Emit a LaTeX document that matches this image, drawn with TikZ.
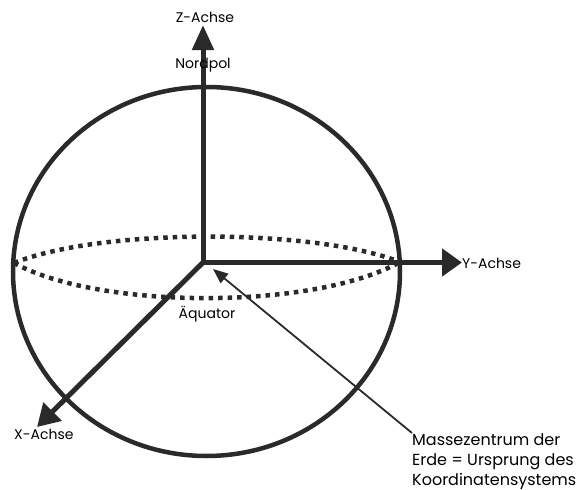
\documentclass[tikz,border=0pt]{standalone}
\usepackage{fontspec}
\setmainfont{Poppins}
\usetikzlibrary{arrows.meta}
\definecolor{ink}{HTML}{2A2A2A}
\begin{document}
\begin{tikzpicture}[x=1pt,y=-1pt,
  axis/.style={draw=ink,line width=5pt},
  rim/.style={draw=ink,line width=4.5pt},
  equator/.style={draw=ink,line width=4.5pt,dash pattern=on 4.5pt off 5pt},
  pointer/.style={draw=ink,line width=1.8pt,-{Triangle[length=15pt,width=12pt]}},
  lbl/.style={font=\fontsize{14}{16}\selectfont,inner sep=0pt},
  annot/.style={font=\fontsize{16}{20}\selectfont,inner sep=0pt,align=left}]
\useasboundingbox (0,0) rectangle (582,490);
% sphere outline
\draw[rim] (206.5,271.5) ellipse [x radius=193.5, y radius=184.5];
% equator
\coordinate (EL) at (14,263);
\coordinate (ER) at (400,262);
\draw[equator] (EL) .. controls (100,228) and (314,228) .. (ER);
\draw[equator] (EL) .. controls (100,310) and (314,310) .. (ER);
% axes
\coordinate (O) at (203,262.5);
\coordinate (Zt) at (203,25);
\coordinate (Yt) at (462,262.5);
\coordinate (Xt) at (37,427);
\draw[axis,-{Triangle[length=25pt,width=21pt]}] (O) -- (Zt);
\draw[axis,-{Triangle[length=20pt,width=27pt]}] (O) -- (Yt);
\draw[axis,-{Triangle[length=22pt,width=25pt]}] (O) -- (Xt);
% labels
\node[lbl] (zl) at (205,17) {Z-Achse};
\node[lbl] (np) at (203,65) {Nordpol};
\node[lbl,anchor=west] (yl) at (462,263) {Y-Achse};
\node[lbl] (aq) at (207,314) {Äquator};
\node[lbl,anchor=west] (xl) at (14,434) {X-Achse};
\node[annot,anchor=north west] (mz) at (412,433) {Massezentrum der\\Erde = Ursprung des\\Koordinatensystems};
\coordinate (ptr) at (213,269);
\draw[pointer] (mz.north west) -- (ptr);
\end{tikzpicture}
\end{document}
